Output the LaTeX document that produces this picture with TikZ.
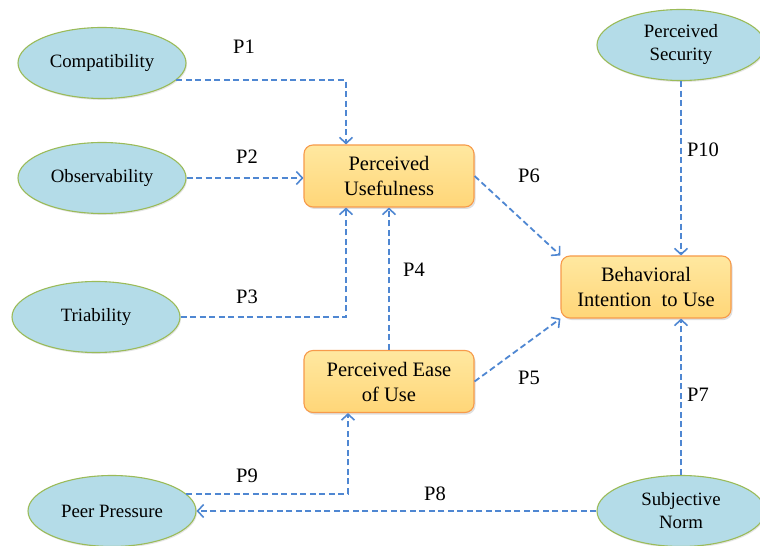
\documentclass[tikz,border=0pt]{standalone}
\usepackage{fontspec}
\setmainfont{Liberation Serif}
\usetikzlibrary{arrows.meta,shapes.geometric,shadows}
\definecolor{ellfill}{RGB}{180,220,232}
\definecolor{ellline}{RGB}{155,187,89}
\definecolor{boxtop}{RGB}{255,232,160}
\definecolor{boxbot}{RGB}{255,214,120}
\definecolor{boxline}{RGB}{247,155,75}
\definecolor{arr}{RGB}{79,135,210}
\tikzset{
  ell/.style={ellipse,draw=ellline,line width=1.1bp,fill=ellfill,minimum width=168bp,minimum height=71bp,inner sep=0pt,align=center,font=\rmfamily\fontsize{18.8bp}{23bp}\selectfont,drop shadow={shadow xshift=1bp,shadow yshift=-1.5bp,opacity=0.2}},
  box/.style={rectangle,rounded corners=9bp,draw=boxline,line width=1.1bp,top color=boxtop,bottom color=boxbot,minimum width=170bp,minimum height=62bp,inner sep=0pt,align=center,font=\rmfamily\fontsize{20.5bp}{25bp}\selectfont,drop shadow={shadow xshift=1.5bp,shadow yshift=-2bp,opacity=0.25}},
  con/.style={draw=arr,line width=1.8bp,dash pattern=on 6bp off 3.5bp,-{Straight Barb[length=6bp,width=13bp,line width=1.6bp]}},
  lab/.style={inner sep=0pt,font=\rmfamily\fontsize{20.5bp}{24bp}\selectfont}
}
\begin{document}
\begin{tikzpicture}[x=1bp,y=-1bp]
\useasboundingbox (0,0) rectangle (760,546);
\fill[white] (0,0) rectangle (760,546);
% ellipses
\node[ell] (comp) at (102,63) {Compatibility};
\node[ell] (obs) at (102,178) {Observability};
\node[ell] (tri) at (96,317) {Triability};
\node[ell] (pp) at (112,511) {Peer Pressure};
\node[ell] (sn) at (681,511) {Subjective\\Norm};
\node[ell] (ps) at (681,45) {Perceived\\Security};
% boxes
\node[box] (pu) at (389,176) {Perceived\\Usefulness};
\node[box] (peou) at (389,381.5) {Perceived Ease\\of Use};
\node[box] (bi) at (646,287) {Behavioral\\Intention\ \ to Use};
% connectors
\draw[con] (comp.-13) -| ([xshift=-43bp]pu.north);
\draw[con] (obs.east) -- (obs.east -| pu.west);
\draw[con] (tri.east) -| ([xshift=-43bp]pu.south);
\draw[con] (peou.north) -- (pu.south);
\draw[con] (pu.east) -- (bi.north west);
\draw[con] (peou.east) -- (bi.south west);
\draw[con] (ps.south) -- (ps.south |- bi.north);
\draw[con] (sn.north) -- (sn.north |- bi.south);
\draw[con] (sn.west) -- (pp.east);
\draw[con] (pp.13) -| ([xshift=-41bp]peou.south);
% labels
\node[lab] (p1) at (244,47) {P1};
\node[lab] (p2) at (247,157) {P2};
\node[lab] (p3) at (247,297) {P3};
\node[lab] (p4) at (414,270) {P4};
\node[lab] (p5) at (529,378) {P5};
\node[lab] (p6) at (529,176) {P6};
\node[lab] (p7) at (698,395) {P7};
\node[lab] (p8) at (435,494) {P8};
\node[lab] (p9) at (247,476) {P9};
\node[lab] (p10) at (703,150) {P10};
\end{tikzpicture}
\end{document}
